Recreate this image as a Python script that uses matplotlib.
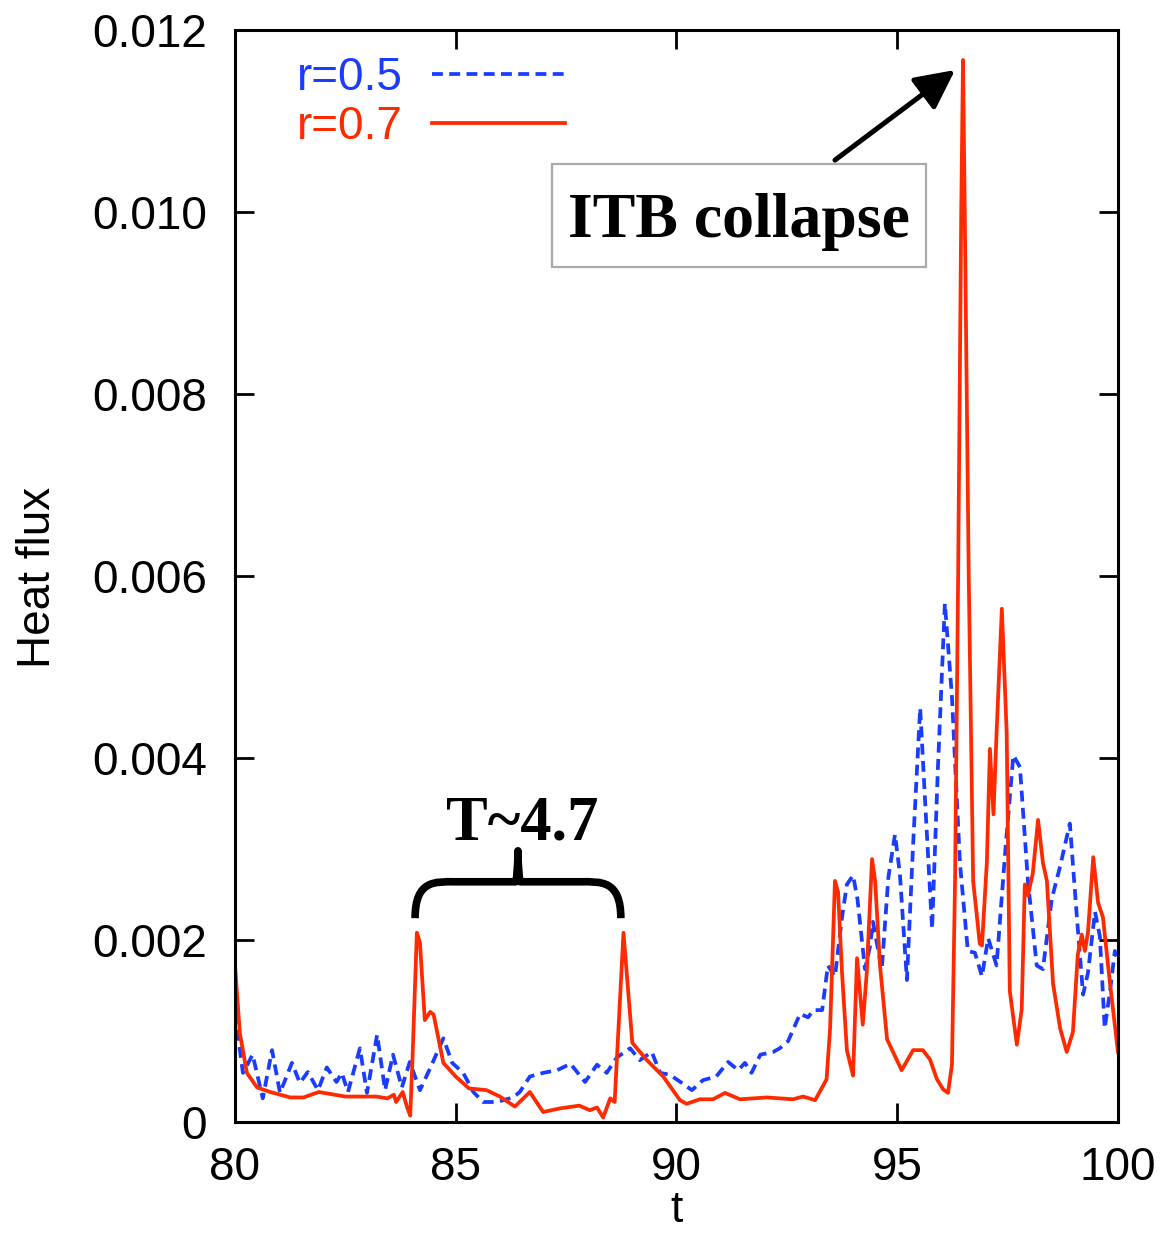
import numpy as np
import matplotlib
matplotlib.use("Agg")
import matplotlib.pyplot as plt
from matplotlib.patches import Rectangle, PathPatch
from matplotlib.path import Path

# Heat flux time traces (values in units of 1e-3)
t_r07 = [80.00, 80.11, 80.27, 80.50, 80.80, 81.25, 81.55, 81.90, 82.50, 83.20,
         83.45, 83.60, 83.65, 83.80, 83.90, 83.97, 84.02, 84.12, 84.19, 84.30,
         84.42, 84.50, 84.72, 85.00, 85.30, 85.70, 86.00, 86.34, 86.68, 86.98,
         87.36, 87.80, 88.04, 88.20, 88.34, 88.50, 88.60, 88.80, 89.00, 89.33,
         89.70, 90.08, 90.23, 90.53, 90.83, 91.10, 91.44, 92.05, 92.64, 92.87,
         93.14, 93.30, 93.40, 93.48, 93.59, 93.66, 93.75, 93.86, 94.00, 94.09,
         94.22, 94.31, 94.43, 94.50, 94.61, 94.77, 95.10, 95.36, 95.58, 95.74,
         95.90, 96.04, 96.15, 96.24, 96.31, 96.38, 96.45, 96.49, 96.53, 96.62,
         96.72, 96.87, 96.92, 97.03, 97.10, 97.18, 97.25, 97.37, 97.48, 97.55,
         97.71, 97.82, 97.89, 97.96, 98.07, 98.19, 98.30, 98.39, 98.53, 98.69,
         98.84, 98.98, 99.09, 99.18, 99.25, 99.32, 99.44, 99.55, 99.66, 99.82,
         100.0]
q_r07 = [1.73, 0.98, 0.54, 0.38, 0.33, 0.27, 0.27, 0.33, 0.28, 0.28,
         0.26, 0.30, 0.22, 0.33, 0.16, 0.07, 0.68, 2.08, 1.97, 1.12,
         1.21, 1.18, 0.65, 0.50, 0.37, 0.35, 0.28, 0.17, 0.33, 0.11,
         0.15, 0.18, 0.13, 0.16, 0.05, 0.26, 0.22, 2.08, 0.87, 0.68,
         0.50, 0.24, 0.20, 0.25, 0.25, 0.32, 0.25, 0.27, 0.25, 0.28,
         0.24, 0.38, 0.47, 1.03, 2.65, 2.53, 1.64, 0.79, 0.51, 1.80,
         1.07, 1.64, 2.89, 2.65, 1.72, 0.91, 0.57, 0.79, 0.79, 0.69,
         0.47, 0.36, 0.32, 0.63, 2.65, 6.00, 10.00, 11.67, 10.00, 6.00,
         2.65, 1.96, 1.94, 2.85, 4.10, 3.38, 4.27, 5.64, 4.27, 1.44,
         0.85, 1.24, 2.61, 2.49, 2.73, 3.32, 2.85, 2.65, 1.52, 1.03,
         0.77, 0.99, 1.84, 2.06, 1.88, 2.08, 2.91, 2.41, 2.25, 1.52,
         0.77]

t_r05 = [80.00, 80.18, 80.40, 80.63, 80.84, 81.02, 81.29, 81.47, 81.65, 81.88,
         82.08, 82.30, 82.42, 82.56, 82.83, 82.99, 83.22, 83.40, 83.58, 83.78,
         83.96, 84.19, 84.42, 84.72, 84.92, 85.17, 85.40, 85.62, 85.93, 86.30,
         86.45, 86.68, 86.98, 87.30, 87.60, 87.93, 88.20, 88.42, 88.65, 88.95,
         89.17, 89.44, 89.63, 89.85, 90.12, 90.35, 90.60, 90.90, 91.17, 91.40,
         91.55, 91.70, 91.90, 92.19, 92.34, 92.53, 92.80, 92.98, 93.10, 93.30,
         93.43, 93.59, 93.75, 93.86, 94.00, 94.10, 94.27, 94.38, 94.45, 94.65,
         94.80, 94.95, 95.06, 95.22, 95.36, 95.52, 95.63, 95.79, 95.92, 96.08,
         96.24, 96.42, 96.60, 96.76, 96.92, 97.06, 97.25, 97.44, 97.63, 97.78,
         97.96, 98.16, 98.30, 98.50, 98.69, 98.91, 99.07, 99.21, 99.32, 99.48,
         99.59, 99.70, 99.82, 99.93, 100.0]
q_r05 = [1.20, 0.54, 0.74, 0.26, 0.79, 0.32, 0.65, 0.43, 0.55, 0.35,
         0.60, 0.44, 0.54, 0.33, 0.81, 0.32, 0.96, 0.35, 0.74, 0.38,
         0.66, 0.35, 0.59, 0.92, 0.65, 0.54, 0.33, 0.22, 0.22, 0.27,
         0.33, 0.50, 0.54, 0.57, 0.64, 0.44, 0.63, 0.54, 0.71, 0.81,
         0.68, 0.77, 0.54, 0.52, 0.43, 0.35, 0.46, 0.50, 0.66, 0.57,
         0.65, 0.54, 0.74, 0.77, 0.81, 0.89, 1.19, 1.15, 1.23, 1.23,
         1.72, 1.60, 2.25, 2.61, 2.71, 2.45, 1.68, 1.92, 2.20, 1.68,
         2.69, 3.16, 2.73, 1.56, 3.05, 4.55, 3.54, 2.12, 3.87, 5.70,
         4.67, 2.85, 1.88, 1.86, 1.60, 2.02, 1.72, 2.93, 4.03, 3.90,
         2.65, 1.72, 1.68, 2.45, 2.81, 3.28, 2.25, 1.40, 1.64, 2.31,
         2.04, 1.03, 1.44, 1.88, 1.76]

x_ticks = [80, 85, 90, 95, 100]
y_ticks = [0, 0.002, 0.004, 0.006, 0.008, 0.010, 0.012]
y_tick_labels = ["0", "0.002", "0.004", "0.006", "0.008", "0.010", "0.012"]

BLUE = "#1a3cff"
RED = "#ff2a00"
SANS = ["Liberation Sans", "DejaVu Sans"]
SERIF = ["Liberation Serif", "DejaVu Serif"]

plt.rcParams["font.family"] = SANS
plt.rcParams["font.size"] = 33

fig = plt.figure(figsize=(11.62, 12.33), dpi=100)
ax = fig.add_axes([0.2022, 0.0900, 0.7599, 0.8857])

unit = 1e-3
ax.plot(t_r05, np.array(q_r05) * unit, color=BLUE, lw=2.7,
        linestyle=(0, (2.9, 1.7)), label="r=0.5")
ax.plot(t_r07, np.array(q_r07) * unit, color=RED, lw=2.7, label="r=0.7",
        solid_joinstyle="round")

ax.set_xlim(80, 100)
ax.set_ylim(0, 0.012)
ax.set_xticks(x_ticks)
ax.set_xticklabels([str(v) for v in x_ticks])
ax.set_yticks(y_ticks)
ax.set_yticklabels(y_tick_labels)

for s in ax.spines.values():
    s.set_linewidth(2.2)
ax.tick_params(axis="both", which="major", direction="in", length=14,
               width=2.0, top=True, right=True, labelsize=33)
ax.tick_params(axis="y", pad=20)
ax.tick_params(axis="x", pad=17)

fig.text(38 / 1162, 1 - 577 / 1233, "Heat flux", rotation=90,
         ha="center", va="center", fontsize=33)
fig.text(677 / 1162, 1 - 1211 / 1233, "t", ha="center", va="center",
         fontsize=32)

leg = ax.legend(loc="upper left", bbox_to_anchor=(0.07, 0.976),
                frameon=False, markerfirst=False, handlelength=2.9,
                handletextpad=0.65, labelspacing=0.1, borderpad=0,
                borderaxespad=0, labelcolor="linecolor", fontsize=33)

# Annotation: collapse label with arrow to the main burst
ax.add_patch(Rectangle((87.18, 0.00939), 95.65 - 87.18, 0.01053 - 0.00939,
                       facecolor="white", edgecolor="#aaaaaa", lw=1.6,
                       zorder=4))
ax.text(91.42, 0.009725, "ITB collapse", ha="center", va="baseline",
        family=SERIF, fontweight="bold", fontsize=46, zorder=5)
ax.annotate("", xy=(96.31, 0.01156), xytext=(93.59, 0.01057),
            arrowprops=dict(arrowstyle="-|>,head_length=0.6,head_width=0.3",
                            lw=3.6, color="black", mutation_scale=40,
                            shrinkA=0, shrinkB=0), zorder=5)

# Period annotation: label and curly brace spanning two bursts
ax.text(86.5, 0.00310, "T~4.7", ha="center", va="baseline",
        family=SERIF, fontweight="bold", fontsize=45, zorder=5)
xl, xr, xm = 84.08, 88.74, 86.41
yb, yh, yt = 0.00224, 0.00264, 0.00298
brace_verts = [
    (xl, yb), (xl, yh + 0.00002), (xl + 0.45, yh), (xl + 0.9, yh),
    (xm - 0.6, yh), (xm - 0.5, yh), (xm - 0.25, yh),
    (xm - 0.05, yh), (xm, yh + 0.0001), (xm, yt),
    (xm, yh + 0.0001), (xm + 0.05, yh), (xm + 0.25, yh),
    (xm + 0.5, yh), (xm + 0.6, yh), (xr - 0.9, yh),
    (xr - 0.45, yh), (xr, yh + 0.00002), (xr, yb),
]
brace_codes = [Path.MOVETO,
               Path.CURVE4, Path.CURVE4, Path.CURVE4,
               Path.LINETO,
               Path.CURVE4, Path.CURVE4, Path.CURVE4,
               Path.CURVE3, Path.CURVE3,
               Path.CURVE3, Path.CURVE3,
               Path.CURVE4, Path.CURVE4, Path.CURVE4,
               Path.LINETO,
               Path.CURVE4, Path.CURVE4, Path.CURVE4]
ax.add_patch(PathPatch(Path(brace_verts, brace_codes), facecolor="none",
                       edgecolor="black", lw=5.5, capstyle="butt",
                       joinstyle="round", zorder=5, clip_on=False))

fig.savefig("out.png", dpi=100)
